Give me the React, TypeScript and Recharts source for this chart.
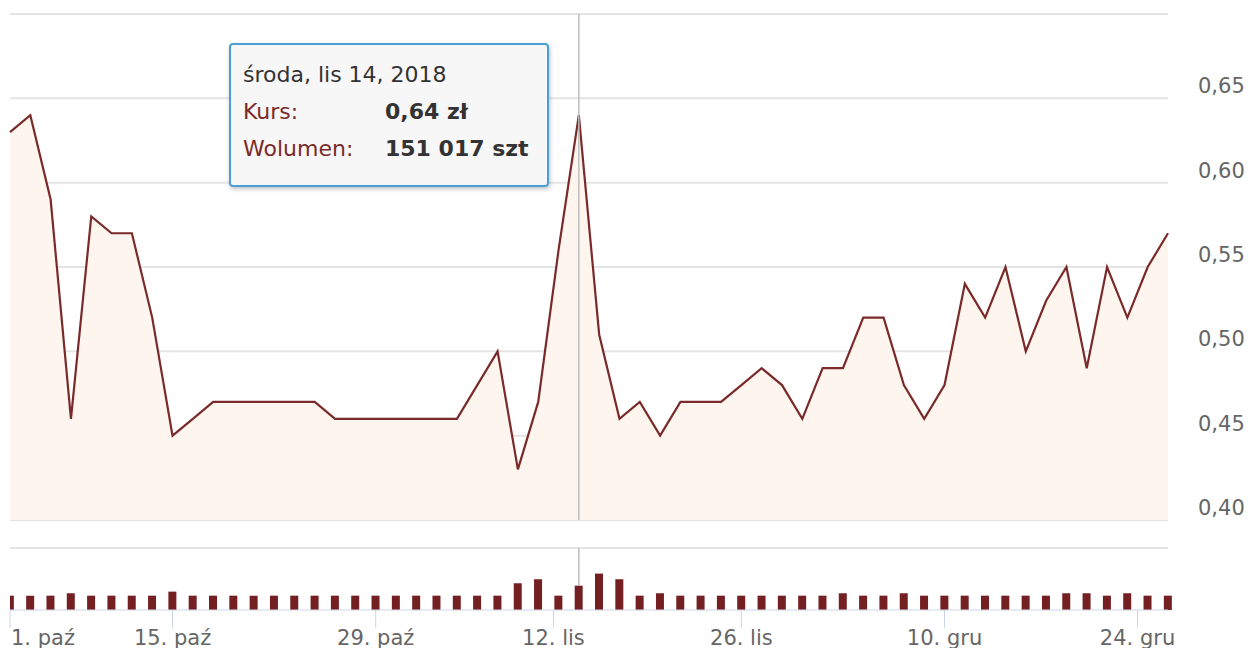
import {
  Area,
  Bar,
  CartesianGrid,
  ComposedChart,
  ReferenceLine,
  Tooltip,
  XAxis,
  YAxis,
} from "recharts";

// kurs zamknięcia, kolejne sesje od 1. paź do 28. gru 2018
const prices = [
  0.63, 0.64, 0.59, 0.46, 0.58, 0.57, 0.57, 0.52, 0.45, 0.46,
  0.47, 0.47, 0.47, 0.47, 0.47, 0.47, 0.46, 0.46, 0.46, 0.46,
  0.46, 0.46, 0.46, 0.48, 0.5, 0.43, 0.47, 0.56, 0.64, 0.51,
  0.46, 0.47, 0.45, 0.47, 0.47, 0.47, 0.48, 0.49, 0.48, 0.46,
  0.49, 0.49, 0.52, 0.52, 0.48, 0.46, 0.48, 0.54, 0.52, 0.55,
  0.5, 0.53, 0.55, 0.49, 0.55, 0.52, 0.55, 0.57,
];

// wolumen (szt)
const volumes = [
  89000, 89000, 89000, 104000, 89000, 89000, 89000, 89000, 114000, 89000,
  89000, 89000, 89000, 89000, 89000, 89000, 89000, 89000, 89000, 89000,
  89000, 89000, 89000, 89000, 89000, 166000, 191000, 89000, 151017, 226000,
  191000, 89000, 104000, 89000, 89000, 89000, 89000, 89000, 89000, 89000,
  89000, 104000, 89000, 89000, 104000, 89000, 89000, 89000, 89000, 89000,
  89000, 89000, 104000, 104000, 89000, 104000, 89000, 89000,
];

const priceTicks = [0.4, 0.45, 0.5, 0.55, 0.6, 0.65, 0.7];
const dateTicks = [0, 8, 18, 26.75, 36, 46, 55.5];
const dateLabels = ["1. paź", "15. paź", "29. paź", "12. lis", "26. lis", "10. gru", "24. gru"];

const hoverIndex = 28;
const hoverDate = "środa, lis 14, 2018";

const data = prices.map((p, i) => ({ i, price: p, volume: volumes[i] }));

const FONT = "'DejaVu Sans', Verdana, sans-serif";
const RED = "#7a2a2a";

const fmtPrice = (v: number) => v.toFixed(2).replace(".", ",");
const fmtVol = (v: number) => String(v).replace(/\B(?=(\d{3})+(?!\d))/g, " ");

function PriceTick(props: any) {
  const { x, y, payload } = props;
  if (payload.value > 0.675) return null;
  return (
    <text x={x + 22} y={y - 5} fill="#666" fontSize={21} fontFamily={FONT}>
      {fmtPrice(payload.value)}
    </text>
  );
}

function DateTick(props: any) {
  const { x, y, payload, index } = props;
  return (
    <text
      x={index === 0 ? x + 1 : x}
      y={y}
      dy="0.71em"
      textAnchor={index === 0 ? "start" : "middle"}
      fill="#666"
      fontSize={21}
      fontFamily={FONT}
    >
      {dateLabels[index]}
    </text>
  );
}

function InfoBox({ active, payload }: any) {
  if (!active || !payload || !payload.length) return null;
  const d = payload[0].payload;
  const row = { display: "flex", height: 37, alignItems: "center" };
  return (
    <div
      style={{
        width: 292,
        height: 118,
        padding: "11px 12px",
        background: "rgba(247,247,247,0.95)",
        border: "2px solid #4aa0d6",
        borderRadius: 4,
        boxShadow: "1px 2px 4px rgba(0,0,0,0.25)",
        fontFamily: FONT,
        fontSize: 22,
        color: "#333",
      }}
    >
      <div style={row}>{hoverDate}</div>
      <div style={row}>
        <span style={{ width: 142, color: RED }}>Kurs:</span>
        <b>{fmtPrice(d.price)} zł</b>
      </div>
      <div style={row}>
        <span style={{ width: 142, color: RED }}>Wolumen:</span>
        <b>{fmtVol(d.volume)} szt</b>
      </div>
    </div>
  );
}

export default function App() {
  return (
    <div style={{ position: "absolute", left: 0, top: 0, width: 1251, height: 648, background: "#fff" }}>
      <ComposedChart
        width={1251}
        height={530}
        data={data}
        margin={{ top: 14, right: 0, left: 10, bottom: 10 }}
      >
        <CartesianGrid vertical={false} stroke="#e4e4e4" strokeWidth={2} />
        <XAxis dataKey="i" type="number" domain={[0, 57]} hide />
        <YAxis
          orientation="right"
          width={83}
          domain={[0.4, 0.7]}
          ticks={priceTicks}
          axisLine={false}
          tickLine={false}
          tick={<PriceTick />}
        />
        <ReferenceLine x={hoverIndex} stroke="#bdbdbd" strokeWidth={1.5} />
        <Area
          dataKey="price"
          type="linear"
          stroke={RED}
          strokeWidth={2.2}
          fill="#fdf5ee"
          fillOpacity={1}
          baseValue={0.4}
          dot={false}
          activeDot={false}
          isAnimationActive={false}
        />
        <Tooltip
          active
          defaultIndex={hoverIndex}
          cursor={false}
          position={{ x: 229, y: 43 }}
          isAnimationActive={false}
          content={<InfoBox />}
          wrapperStyle={{ zIndex: 5 }}
        />
      </ComposedChart>
      <div style={{ position: "absolute", left: 0, top: 530 }}>
        <ComposedChart
          width={1251}
          height={118}
          data={data}
          margin={{ top: 18, right: 83, left: 10, bottom: 0 }}
        >
          <XAxis
            dataKey="i"
            type="number"
            domain={[0, 57]}
            ticks={dateTicks}
            height={38}
            interval={0}
            stroke="#ccd6eb"
            tickSize={18}
            tick={<DateTick />}
          />
          <YAxis hide domain={[0, 385000]} />
          <ReferenceLine y={385000} stroke="#e4e4e4" strokeWidth={2} />
          <ReferenceLine
            segment={[
              { x: hoverIndex, y: 385000 },
              { x: hoverIndex, y: volumes[hoverIndex] },
            ]}
            stroke="#bdbdbd"
            strokeWidth={1.5}
          />
          <Bar dataKey="volume" fill="#741f22" barSize={8} isAnimationActive={false} />
        </ComposedChart>
      </div>
      {/* mask: clip the half of the first bar that falls left of the plot, as in the original */}
      <div style={{ position: "absolute", left: 0, top: 580, width: 10, height: 30, background: "#fff" }} />
    </div>
  );
}
